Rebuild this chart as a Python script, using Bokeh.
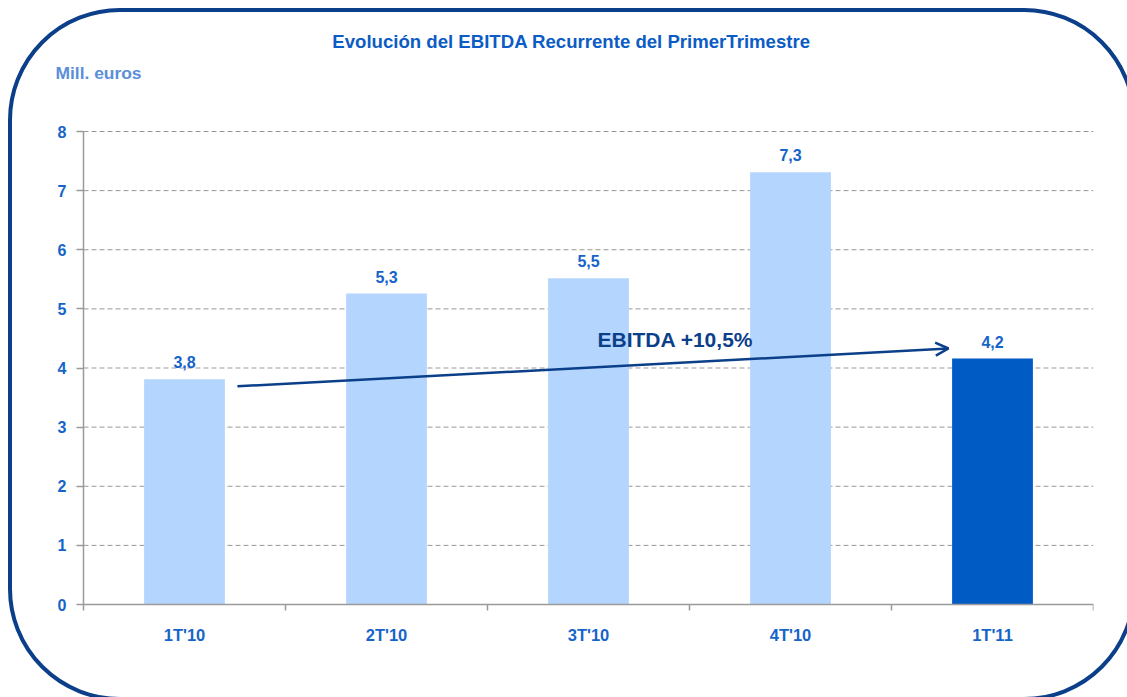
from bokeh.plotting import figure
from bokeh.models import (Range1d, FixedTicker, Label, Arrow, OpenHead,
                          ColumnDataSource, InlineStyleSheet)
from bokeh.core.properties import value
from bokeh.embed import file_html
from bokeh.resources import INLINE

# ---- data ----
categories = ["1T'10", "2T'10", "3T'10", "4T'10", "1T'11"]
ebitda = [3.81, 5.26, 5.52, 7.31, 4.16]
highlight = [False, False, False, False, True]
y_ticks = [0, 1, 2, 3, 4, 5, 6, 7, 8]
title_text = "Evolución del EBITDA Recurrente del PrimerTrimestre"
unit_text = "Mill. euros"
growth_text = "EBITDA +10,5%"
arrow_from = (0.762, 3.69)
arrow_to = (4.282, 4.33)

# ---- style ----
FONT_NAME = "Liberation Sans"
FONT = value(FONT_NAME)
LIGHT = "#B4D6FE"
DARK = "#005BC5"
NAVY = "#0B3F8A"
TXT = "#1664C8"
TITLE_C = "#0B5CC4"
UNIT_C = "#5B8EDA"
GRAY = "#9A9A9A"

n = len(categories)
y_max = y_ticks[-1]
x_pos = [i + 0.5 for i in range(n)]
labels = [f"{v:.1f}".replace(".", ",") for v in ebitda]
colors = [DARK if h else LIGHT for h in highlight]
src = ColumnDataSource(dict(x=x_pos, top=ebitda, color=colors, label=labels))
grid_src = ColumnDataSource(dict(y=y_ticks[1:]))

border_css = """
:host { position: relative; overflow: visible; }
:host::after {
  content: "";
  position: absolute;
  left: 8px; top: 8px; width: 1128px; height: 693px;
  box-sizing: border-box;
  border: 4px solid #0B3F8A;
  border-radius: 112px;
  pointer-events: none;
  z-index: 10;
}
"""

# frame: canvas x 40..1093, y 0..641 ; data x=0 at canvas 83, y=0 at 604, y=8 at 131
PX_X = 202.0
PX_Y = 473 / 8
FRAME_W, FRAME_H = 1053, 641
x0 = -43 / PX_X
y_hi = y_max + 131 / PX_Y
y_lo = -(FRAME_H - 604) / PX_Y

p = figure(frame_width=FRAME_W, frame_height=FRAME_H, output_backend="svg",
           toolbar_location=None,
           x_range=Range1d(x0, n), y_range=Range1d(y_lo, y_hi),
           min_border_left=40, min_border_right=18, min_border_top=0,
           min_border_bottom=40,
           stylesheets=[InlineStyleSheet(css=border_css)])
p.outline_line_color = None
p.background_fill_color = "white"
p.border_fill_color = "white"
p.xgrid.visible = False
p.ygrid.visible = False

# dashed horizontal gridlines over the category span
p.segment(x0=0, x1=n, y0="y", y1="y", source=grid_src, line_color="#999999",
          line_dash="5 3", line_width=1)

xa = p.xaxis[0]
xa.fixed_location = 0
xa.bounds = (0, n)
xa.ticker = FixedTicker(ticks=x_pos, minor_ticks=list(range(n + 1)))
xa.major_label_overrides = {x: c for x, c in zip(x_pos, categories)}
xa.major_tick_line_color = None
xa.major_tick_out = 0
xa.major_tick_in = 0
xa.minor_tick_out = 6
xa.minor_tick_in = 0
xa.minor_tick_line_color = GRAY
xa.minor_tick_line_width = 1.5
xa.axis_line_color = GRAY
xa.axis_line_width = 1.5
xa.major_label_standoff = 15
xa.major_label_text_font = FONT_NAME
xa.major_label_text_font_style = "bold"
xa.major_label_text_font_size = "16.5px"
xa.major_label_text_color = TXT

ya = p.yaxis[0]
ya.fixed_location = 0
ya.bounds = (0, y_max)
ya.ticker = FixedTicker(ticks=y_ticks)
ya.minor_tick_line_color = None
ya.major_tick_out = 7
ya.major_tick_in = 0
ya.major_tick_line_color = GRAY
ya.major_tick_line_width = 1.5
ya.axis_line_color = GRAY
ya.axis_line_width = 1.5
ya.major_label_standoff = 10
ya.major_label_text_font = FONT_NAME
ya.major_label_text_font_style = "bold"
ya.major_label_text_font_size = "16px"
ya.major_label_text_color = TXT

p.vbar(x="x", top="top", bottom=0, width=0.4, fill_color="color",
       line_color=None, source=src)
p.text(x="x", y="top", text="label", source=src, text_align="center",
       text_baseline="middle", y_offset=-17, text_font=FONT,
       text_font_style="bold", text_font_size="16px", text_color=TXT)

p.add_layout(Arrow(end=OpenHead(size=13, line_color=NAVY, line_width=2.5),
                   x_start=arrow_from[0], y_start=arrow_from[1],
                   x_end=arrow_to[0], y_end=arrow_to[1],
                   line_color=NAVY, line_width=2.5))

p.add_layout(Label(x=2.93, y=4.48, text=growth_text, text_align="center",
                   text_baseline="middle", text_font=FONT_NAME, text_font_style="bold",
                   text_font_size="21px", text_color=NAVY))
p.add_layout(Label(x=2.416, y=9.522, text=title_text, text_align="center",
                   text_baseline="middle", text_font=FONT_NAME, text_font_style="bold",
                   text_font_size="18.6px", text_color=TITLE_C))
p.add_layout(Label(x=-0.1386, y=8.981, text=unit_text, text_align="left",
                   text_baseline="middle", text_font=FONT_NAME, text_font_style="bold",
                   text_font_size="17.4px", text_color=UNIT_C))

open("out.html", "w").write(file_html(p, INLINE))
